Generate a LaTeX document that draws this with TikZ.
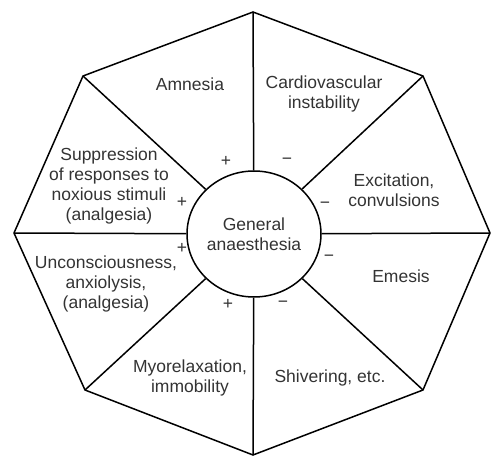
\documentclass[tikz,border=0pt]{standalone}
\usepackage{fontspec}
\setmainfont{Liberation Sans}
\usetikzlibrary{shapes.geometric}
\definecolor{txt}{HTML}{333333}
\tikzset{
  edge/.style={draw=black, line width=1.5pt, line join=miter},
  lbl/.style={text=txt, align=center, inner sep=0pt, font=\fontsize{17.5}{20}\selectfont},
  sgn/.style={text=txt, inner sep=0pt, font=\fontsize{17.5}{20}\selectfont},
  hub/.style={draw=black, line width=1.5pt, ellipse, minimum width=134pt, minimum height=126pt, inner sep=0pt}
}
\begin{document}
\begin{tikzpicture}[x=1pt,y=-1pt]
\useasboundingbox (0,0) rectangle (491,457);
% octagon vertices
\coordinate (vT) at (253,12);
\coordinate (vTR) at (423,76);
\coordinate (vR) at (490,233);
\coordinate (vBR) at (423,390);
\coordinate (vB) at (253,455);
\coordinate (vBL) at (85,390);
\coordinate (vL) at (14,233);
\coordinate (vTL) at (83,76);
\draw[edge] (vT) -- (vTR) -- (vR) -- (vBR) -- (vB) -- (vBL) -- (vL) -- (vTL) -- cycle;
% hub
\node[hub, lbl] (c) at (254,234) {General\\anaesthesia};
% spokes
\foreach \v in {vT,vTR,vR,vBR,vB,vBL,vL,vTL}{
  \draw[edge] (c) -- (\v);
}
% labels
\node[lbl] (amn) at (190,84) {Amnesia};
\node[lbl] (cvi) at (324,94) {Cardiovascular\\instability};
\node[lbl] (exc) at (394,190) {Excitation,\\convulsions};
\node[lbl] (eme) at (401,276) {Emesis};
\node[lbl] (shv) at (330,378) {Shivering, etc.};
\node[lbl] (myo) at (190,378) {Myorelaxation,\\immobility};
\node[lbl] (unc) at (106,284) {Unconsciousness,\\anxiolysis,\\(analgesia)};
\node[lbl] (sup) at (109,186) {Suppression\\of responses to\\noxious stimuli\\(analgesia)};
% signs
\node[sgn] (p1) at (226,161) {+};
\node[sgn] (m1) at (287,161) {−};
\node[sgn] (p2) at (182,202) {+};
\node[sgn] (m2) at (325,205) {−};
\node[sgn] (p3) at (182,248) {+};
\node[sgn] (m3) at (329,258) {−};
\node[sgn] (p4) at (228,304) {+};
\node[sgn] (m4) at (283,304) {−};
\end{tikzpicture}
\end{document}
